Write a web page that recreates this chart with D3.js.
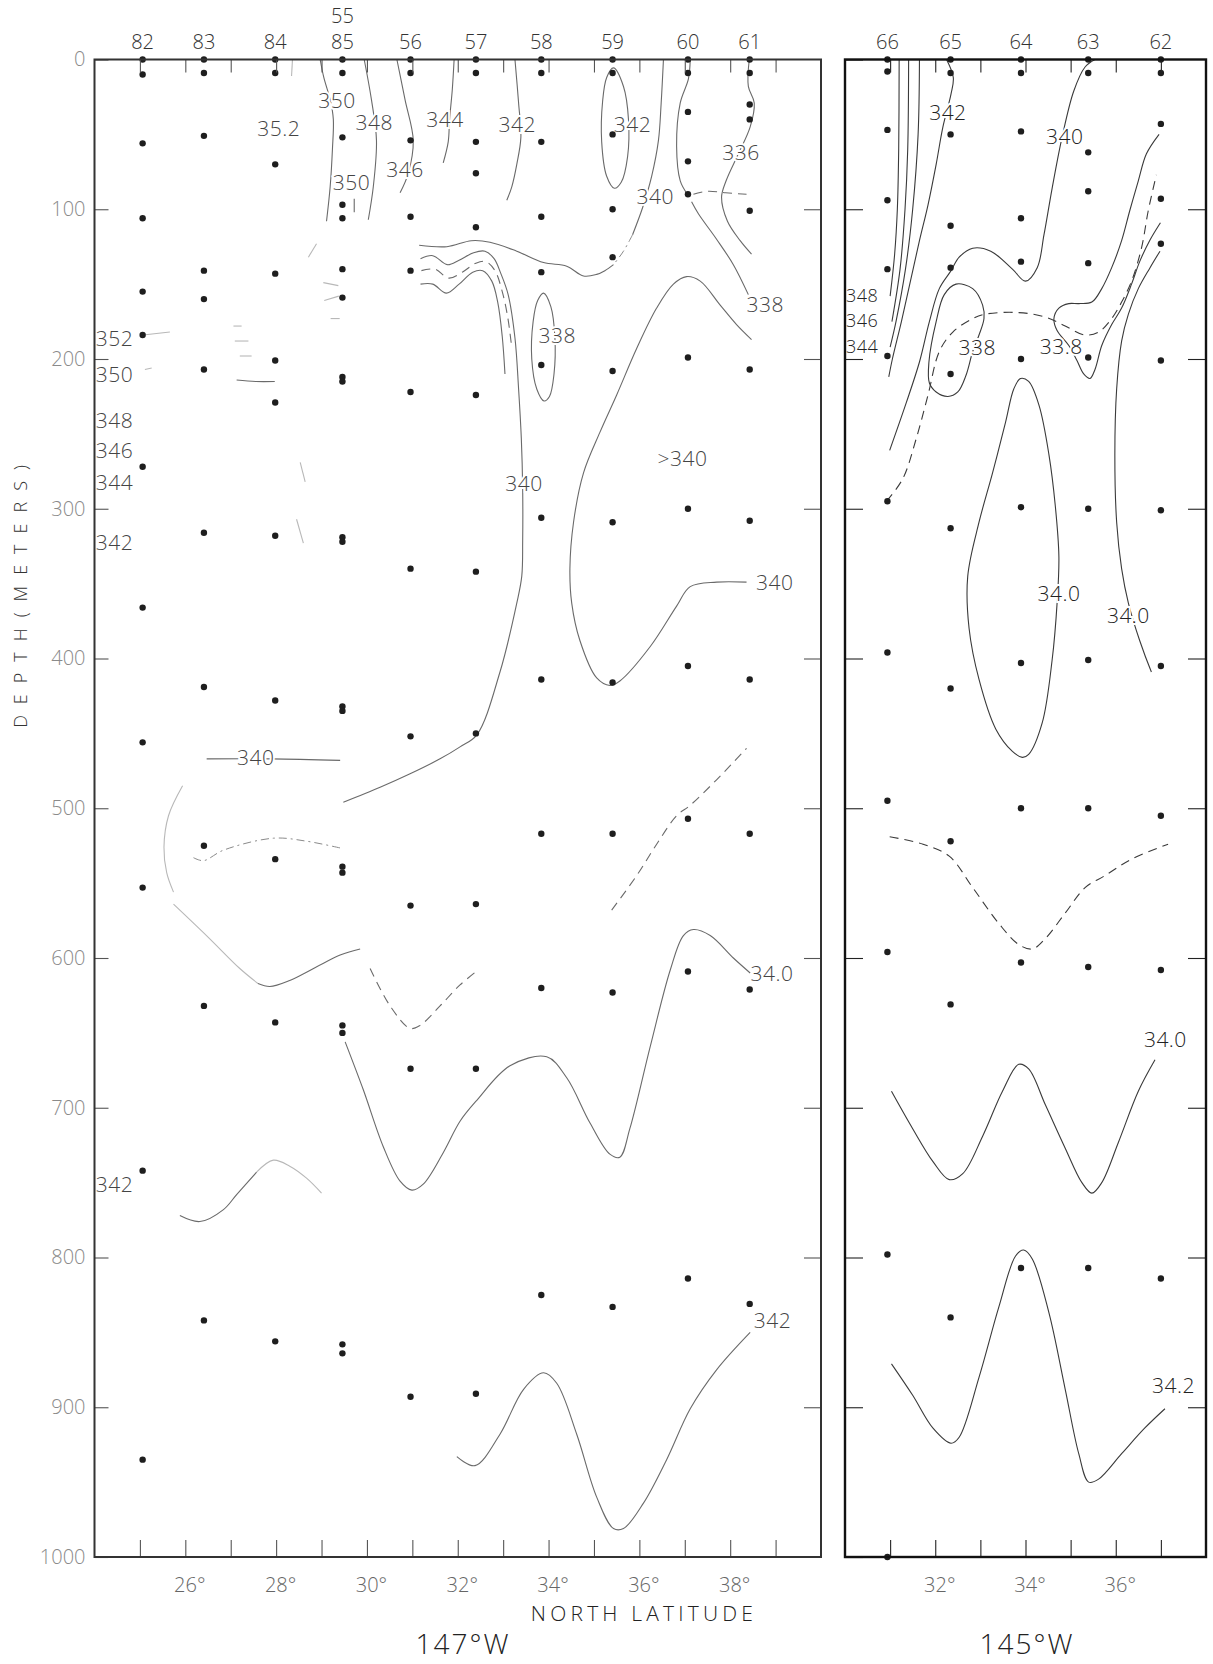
<!DOCTYPE html>
<html><head><meta charset="utf-8">
<script src="https://cdn.jsdelivr.net/npm/d3@7"></script>
<style>
body{margin:0;background:#fff}
text{font-family:"Open Sans","Liberation Sans",sans-serif;font-weight:300}
</style>
</head><body>
<svg id="c" width="1213" height="1664"></svg>
<script>
// ---------------- DATA ----------------
const depthTicks = [0,100,200,300,400,500,600,700,800,900,1000];
const leftLatTicks = [25,26,27,28,29,30,31,32,33,34,35,36,37,38,39];
const rightLatTicks = [31,32,33,34,35,36,37];
const leftLatLabels = [26,28,30,32,34,36,38];
const rightLatLabels = [32,34,36];

const leftStationIds = ["82","83","84","85","56","57","58","59","60","61"];
const leftStationLats = [25.06,26.41,27.98,29.46,30.96,32.40,33.84,35.41,37.07,38.43];
const leftStationDepths = [
  [0,10,56,106,155,184,272,366,456,553,742,935],
  [0,9,51,141,160,207,316,419,525,632,842],
  [0,9,70,143,201,229,318,428,534,643,856],
  [0,9,52,97,106,140,159,212,215,319,322,432,435,539,543,645,650,858,864],
  [0,9,54,105,141,222,340,452,565,674,893],
  [0,9,55,76,112,224,342,450,564,674,891],
  [0,9,55,105,142,204,306,414,517,620,825],
  [0,9,50,100,132,208,309,416,517,623,833],
  [0,9,35,68,90,199,300,405,507,609,814],
  [0,9,30,40,101,207,308,414,517,621,831]
];
const rightStationIds = ["66","65","64","63","62"];
const rightStationLats = [30.94,32.34,33.90,35.39,37.00];
const rightStationDepths = [
  [0,8,47,94,140,198,295,396,495,596,798,1000],
  [0,9,50,111,139,210,313,420,522,631,840],
  [0,9,48,106,135,200,299,403,500,603,807],
  [0,9,62,88,136,199,300,401,500,606,807],
  [0,9,43,93,123,201,301,405,505,608,814]
];

// isohalines: [latitude, depth] pairs
const leftContours = [
  {s:"faint", pts:[[28.36,0],[28.34,11]]},
  {s:"solid", pts:[[28.97,0],[29.05,12],[29.2,28],[29.26,40],[29.24,60],[29.19,85],[29.11,108]]},
  {s:"solid", pts:[[29.72,93],[29.72,102]]},
  {s:"solid", pts:[[29.94,0],[30.1,27],[30.21,54],[30.14,85],[30.03,107]]},
  {s:"solid", pts:[[30.66,0],[30.84,27],[31.02,54],[30.91,76],[30.73,89]]},
  {s:"solid", pts:[[31.92,0],[31.88,20],[31.82,40],[31.79,55],[31.68,69]]},
  {s:"solid", pts:[[33.26,0],[33.34,29],[33.39,52],[33.30,70],[33.19,85],[33.08,94]]},
  {s:"solid", closed:true, pts:[[35.43,5.6],[35.65,18],[35.76,40],[35.74,65],[35.6,82],[35.45,86],[35.28,78],[35.17,55],[35.19,28],[35.28,12]]},
  {s:"solid", pts:[[36.53,0],[36.48,29],[36.42,54],[36.27,78],[36.07,99],[35.85,117]]},
  {s:"dashdot", pts:[[35.85,117],[35.65,128],[35.43,137]]},
  {s:"solid", pts:[[35.43,137],[35.24,141],[35.06,143.5],[34.77,144.6],[34.4,138],[33.89,135.6],[33.3,128],[32.71,122],[32.3,121],[31.76,125],[31.15,124]]},
  {s:"solid", pts:[[31.18,133],[31.45,131],[31.77,137],[32.03,134],[32.35,129],[32.6,128],[32.8,133],[32.95,143],[33.11,157],[33.26,186],[33.34,220],[33.4,253],[33.43,287],[33.43,321],[33.41,345],[33.3,363],[32.93,409],[32.42,451],[32.05,459],[31.61,467],[30.95,477],[30.29,486],[29.48,496]]},
  {s:"dashed", pts:[[31.2,141],[31.5,140],[31.8,146],[32.1,142],[32.4,136],[32.62,135],[32.82,141],[32.98,155],[33.1,172],[33.18,190]]},
  {s:"solid", pts:[[31.18,150],[31.45,150],[31.75,156],[32.03,150],[32.33,142],[32.55,141],[32.75,148],[32.88,162],[32.98,185],[33.04,210]]},
  {s:"solid", closed:true, pts:[[33.89,156],[34.05,165],[34.14,186],[34.12,210],[34.02,225],[33.9,228],[33.74,220],[33.63,200],[33.66,175],[33.76,161]]},
  {s:"solid", pts:[[37.12,0],[37.08,13],[36.9,29],[36.82,58],[36.9,81],[37.06,90]]},
  {s:"dashed", pts:[[37.19,90],[37.5,88],[37.9,89],[38.36,90]]},
  {s:"solid", pts:[[37.15,95],[37.3,103],[37.7,120],[38.07,137],[38.4,157]]},
  {s:"solid", pts:[[38.42,0],[38.4,18],[38.53,29],[38.44,45],[38.18,63],[37.91,81],[37.81,92],[37.94,108],[38.22,121],[38.47,130]]},
  {s:"solid", pts:[[38.47,187],[38.14,177],[37.78,164],[37.34,148],[37.04,145],[36.75,150],[36.38,166],[35.94,193],[35.5,224],[35.13,249],[34.77,276],[34.55,309],[34.47,340],[34.51,363],[34.69,388],[35.06,413],[35.35,418],[35.57,415],[36.24,392],[36.82,365],[37.12,352],[37.7,349],[38.36,349]]},
  {s:"solid", pts:[[26.47,467],[27.9,467],[29.41,468]]},
  {s:"faint", pts:[[25.94,485],[25.63,505],[25.53,526],[25.59,543],[25.74,556]]},
  {s:"dashdot", pts:[[26.18,533],[26.4,535],[26.84,528],[27.94,520],[28.67,522],[29.48,527]]},
  {s:"faint", pts:[[25.74,564],[26.5,586],[27.2,607],[27.6,617]]},
  {s:"solid", pts:[[27.6,617],[27.86,619],[28.3,615],[29.41,598],[29.85,594]]},
  {s:"dashed", pts:[[30.07,607],[30.51,632],[30.95,647],[31.17,645],[31.61,632],[32.05,618],[32.45,608]]},
  {s:"solid", pts:[[29.52,656],[29.92,688],[30.36,726],[30.73,749],[30.99,755],[31.24,751],[31.68,730],[32.05,709],[32.42,695],[33.15,672],[33.96,666],[34.4,680],[34.91,710],[35.35,731],[35.57,733],[35.79,714],[36.24,659],[36.68,608],[36.97,585],[37.19,581],[37.56,585],[38.07,600],[38.44,610]]},
  {s:"dashed", pts:[[35.39,568],[35.94,545],[36.38,524],[36.82,505],[37.12,498],[37.7,481],[38.36,460]]},
  {s:"solid", pts:[[25.88,772],[26.32,776],[26.84,768],[27.13,758],[27.57,743]]},
  {s:"faint", pts:[[27.57,743],[27.94,735],[28.3,739],[28.67,747],[29.0,757]]},
  {s:"solid", pts:[[31.98,933],[32.38,939],[32.93,918],[33.45,888],[33.89,877],[34.18,884],[34.62,918],[35.06,960],[35.43,981],[35.65,981],[36.09,964],[36.6,935],[37.12,901],[37.7,875],[38.44,850]]},
  {s:"faint", pts:[[25.07,184],[25.66,182]]},
  {s:"faint", pts:[[25.11,207],[25.26,206]]},
  {s:"faint", pts:[[27.06,178],[27.24,178]]},
  {s:"faint", pts:[[27.09,188],[27.39,188]]},
  {s:"faint", pts:[[27.2,198],[27.46,198]]},
  {s:"solid", pts:[[27.13,214],[27.55,215],[27.97,215]]},
  {s:"faint", pts:[[29.04,149],[29.37,151]]},
  {s:"faint", pts:[[29.06,161],[29.38,158]]},
  {s:"faint", pts:[[29.2,173],[29.4,173]]},
  {s:"faint", pts:[[28.45,307],[28.6,323]]},
  {s:"faint", pts:[[28.53,269],[28.64,282]]},
  {s:"faint", pts:[[28.71,132],[28.89,123]]}
];

const rightContours = [
  {s:"solid", pts:[[31.2,0],[31.19,60],[31.16,100],[31.1,130],[31.0,158]]},
  {s:"solid", pts:[[31.41,0],[31.39,60],[31.33,100],[31.22,140],[31.04,175]]},
  {s:"solid", pts:[[31.65,0],[31.62,50],[31.5,100],[31.34,140],[31.13,175],[31.0,192]]},
  {s:"solid", pts:[[32.25,0],[32.4,12],[32.35,23],[32.17,45],[32.02,70],[31.84,97],[31.65,121],[31.45,148],[31.25,175],[31.05,200],[30.97,212]]},
  {s:"solid", pts:[[35.54,0],[35.32,5],[35.07,21],[34.81,52],[34.59,86],[34.41,117],[34.26,139],[34.0,148],[33.71,140],[33.23,128],[32.83,126],[32.53,132],[32.35,141],[32.09,153],[31.87,175],[31.65,202],[31.36,229],[30.99,261]]},
  {s:"solid", closed:true, pts:[[32.46,150],[32.83,153],[33.05,164],[33.08,173],[32.97,184],[32.83,195],[32.68,211],[32.5,222],[32.28,225],[32.02,222],[31.87,216],[31.86,202],[32.02,175],[32.2,157]]},
  {s:"dashed", pts:[[30.92,295],[31.28,280],[31.58,253],[31.84,224],[32.09,195],[32.39,182],[32.83,173],[33.12,170],[33.85,169],[34.44,172],[34.88,178],[35.32,184],[35.62,182],[35.91,173],[36.13,162],[36.35,148],[36.57,126],[36.72,101],[36.9,77]]},
  {s:"solid", pts:[[36.96,50],[36.68,63],[36.5,81],[36.31,101],[36.13,121],[35.91,139],[35.69,153],[35.47,162],[35.18,163],[34.96,163],[34.74,166],[34.63,173],[34.7,181],[34.96,191],[35.14,201],[35.29,210],[35.43,213],[35.54,207],[35.69,191],[35.91,177],[36.13,166],[36.35,150],[36.53,135],[36.75,121],[36.99,109]]},
  {s:"solid", pts:[[36.98,128],[36.76,139],[36.5,153],[36.28,170],[36.13,188],[36.02,220],[35.98,264],[36.02,309],[36.13,340],[36.28,363],[36.53,388],[36.79,409]]},
  {s:"solid", closed:true, pts:[[33.93,466],[33.71,462],[33.34,447],[32.97,414],[32.75,380],[32.72,345],[32.97,309],[33.27,276],[33.56,242],[33.74,220],[33.89,213],[34.07,215],[34.3,231],[34.52,264],[34.66,298],[34.74,332],[34.7,363],[34.59,401],[34.37,443],[34.07,464]]},
  {s:"dashed", pts:[[30.99,519],[31.73,524],[32.31,532],[32.83,553],[33.41,577],[33.85,591],[34.15,594],[34.44,587],[34.88,570],[35.32,553],[35.76,545],[36.35,534],[37.16,524]]},
  {s:"solid", pts:[[31.03,689],[31.5,714],[31.95,736],[32.31,748],[32.61,744],[33.05,719],[33.49,689],[33.85,671],[34.07,674],[34.44,698],[34.88,727],[35.25,750],[35.47,757],[35.69,750],[36.06,723],[36.5,689],[36.87,668]]},
  {s:"solid", pts:[[31.03,871],[31.5,892],[31.95,914],[32.35,924],[32.53,920],[32.97,880],[33.41,833],[33.78,799],[33.96,795],[34.15,801],[34.52,837],[34.88,888],[35.18,931],[35.4,950],[35.62,948],[36.13,931],[36.64,914],[37.09,901]]}
];

const leftLabels = [
  {t:"35.2",lat:28.06,d:46},{t:"350",lat:29.34,d:27},{t:"348",lat:30.16,d:42},
  {t:"344",lat:31.72,d:40},{t:"350",lat:29.66,d:82},{t:"346",lat:30.84,d:73},
  {t:"342",lat:33.31,d:43},{t:"342",lat:35.85,d:43},{t:"340",lat:36.35,d:91},
  {t:"336",lat:38.24,d:62},{t:"338",lat:34.19,d:184},{t:"338",lat:38.77,d:163},
  {t:">340",lat:36.95,d:266},{t:"340",lat:33.46,d:283},{t:"340",lat:38.98,d:349},
  {t:"340",lat:27.55,d:466},{t:"34.0",lat:38.92,d:610},{t:"342",lat:38.93,d:842},
  {t:"352",lat:24.03,d:186,a:"start"},{t:"350",lat:24.03,d:210,a:"start"},
  {t:"348",lat:24.03,d:241,a:"start"},{t:"346",lat:24.03,d:261,a:"start"},
  {t:"344",lat:24.03,d:282,a:"start"},{t:"342",lat:24.03,d:322,a:"start"},
  {t:"342",lat:24.03,d:751,a:"start"}
];
const rightLabels = [
  {t:"342",lat:32.28,d:35},{t:"340",lat:34.87,d:51},
  {t:"348",lat:30.02,d:157,a:"start",fs:18},{t:"346",lat:30.02,d:174,a:"start",fs:18},{t:"344",lat:30.02,d:191,a:"start",fs:18},
  {t:"338",lat:32.93,d:192},{t:"33.8",lat:34.79,d:191},
  {t:"34.0",lat:34.74,d:356},{t:"34.0",lat:36.28,d:371},
  {t:"34.0",lat:37.1,d:654},{t:"34.2",lat:37.28,d:885}
];

// ---------------- DRAW ----------------
const svg = d3.select("#c");
const y = d3.scaleLinear().domain([0,1000]).range([59.5,1557]);
const xL = d3.scaleLinear().domain([24,40]).range([94.5,821]);
const xR = d3.scaleLinear().domain([30,38]).range([845,1206]);

const styles = {
  solid:{stroke:"#6a6a6a",dash:null,w:1.1},
  dashed:{stroke:"#6a6a6a",dash:"9,6",w:1.1},
  dashdot:{stroke:"#8a8a8a",dash:"8,4,2,4",w:1},
  faint:{stroke:"#b8b8b8",dash:null,w:1.1}
};

function drawPanel(x, contours, labels, ids, lats, depths, latTicks, latLabels, dark){
  const g = svg.append("g");
  contours.forEach(c=>{
    const st = styles[c.s];
    const line = d3.line().x(p=>x(p[0])).y(p=>y(p[1]))
      .curve(c.closed ? d3.curveCatmullRomClosed.alpha(0.5) : (c.pts.length>2 ? d3.curveCatmullRom.alpha(0.5) : d3.curveLinear));
    g.append("path").attr("d",line(c.pts)).attr("fill","none")
      .attr("stroke", dark && c.s!=="faint" ? "#3a3a3a" : st.stroke)
      .attr("stroke-width", st.w).attr("stroke-dasharray", st.dash);
  });
  labels.forEach(l=>{
    g.append("text").attr("x",x(l.lat)).attr("y",y(l.d))
      .attr("text-anchor",l.a||"middle").attr("dominant-baseline","central")
      .attr("font-size",l.fs||21).attr("letter-spacing",0.5)
      .attr("fill", dark ? "#222" : "#444")
      .attr("stroke","#fff").attr("stroke-width",4).attr("paint-order","stroke")
      .text(l.t);
  });
  ids.forEach((id,i)=>{
    depths[i].forEach(dp=>{
      g.append("circle").attr("cx",x(lats[i])).attr("cy",y(dp)).attr("r",3.2).attr("fill","#1e1e1e");
    });
    g.append("text").attr("x",x(lats[i])).attr("y",41).attr("text-anchor","middle")
      .attr("dominant-baseline","central").attr("font-size",20).attr("fill","#333").text(id);
  });
  const [x0,x1] = x.range();
  const yl = g.append("g").attr("transform",`translate(${x0},0)`)
    .call(d3.axisLeft(y).tickValues(depthTicks).tickSize(dark?-18:-14));
  const yr = g.append("g").attr("transform",`translate(${x1},0)`)
    .call(d3.axisRight(y).tickValues(depthTicks.slice(1,-1)).tickSize(dark?-18:-17));
  const xt = g.append("g").attr("transform",`translate(0,${y(0)})`)
    .call(d3.axisTop(x).tickValues(latTicks).tickSize(-13));
  const xb = g.append("g").attr("transform",`translate(0,${y(1000)})`)
    .call(d3.axisBottom(x).tickValues(latTicks).tickSize(-17));
  [yl,yr,xt,xb].forEach(a=>{
    a.select(".domain").remove();
    a.selectAll("text").remove();
    a.selectAll("line").attr("stroke",dark?"#222":"#555").attr("stroke-width",1.1);
  });
  const xl = g.append("g").attr("transform",`translate(0,${y(1000)})`)
    .call(d3.axisBottom(x).tickValues(latLabels).tickSize(0).tickPadding(21).tickFormat(d=>d+"°"));
  xl.select(".domain").remove();
  xl.selectAll("text").attr("font-size",20).attr("fill","#666").attr("dx",4)
    .attr("font-family",'"Open Sans","Liberation Sans",sans-serif');
  g.append("rect").attr("x",x0).attr("y",y(0)).attr("width",x1-x0).attr("height",y(1000)-y(0))
    .attr("fill","none").attr("stroke",dark?"#111":"#333").attr("stroke-width",dark?2.4:2);
}

drawPanel(xL,leftContours,leftLabels,leftStationIds,leftStationLats,leftStationDepths,leftLatTicks,leftLatLabels,false);
drawPanel(xR,rightContours,rightLabels,rightStationIds,rightStationLats,rightStationDepths,rightLatTicks,rightLatLabels,true);

// extra station number above 85
svg.append("text").attr("x",xL(29.46)).attr("y",15).attr("text-anchor","middle")
  .attr("dominant-baseline","central").attr("font-size",20).attr("fill","#333").text("55");

// depth labels
const ya = svg.append("g").attr("transform",`translate(${xL(24)},0)`)
  .call(d3.axisLeft(y).tickValues(depthTicks).tickSize(0).tickPadding(9).tickFormat(d3.format("d")));
ya.select(".domain").remove();
ya.selectAll("text").attr("font-size",20).attr("fill","#8a8a8a")
  .attr("font-family",'"Open Sans","Liberation Sans",sans-serif').attr("font-weight",300);

// titles
svg.append("text").attr("transform","translate(20,591) rotate(-90)").attr("text-anchor","middle")
  .attr("dominant-baseline","central").attr("font-size",18).attr("letter-spacing",11).attr("fill","#333")
  .text("DEPTH(METERS)");
svg.append("text").attr("x",644).attr("y",1621).attr("text-anchor","middle")
  .attr("font-size",21).attr("letter-spacing",4.2).attr("fill","#222").text("NORTH LATITUDE");
svg.append("text").attr("x",463).attr("y",1654).attr("text-anchor","middle")
  .attr("font-size",28).attr("letter-spacing",2).attr("fill","#222").text("147°W");
svg.append("text").attr("x",1027).attr("y",1654).attr("text-anchor","middle")
  .attr("font-size",28).attr("letter-spacing",2).attr("fill","#222").text("145°W");
</script>
</body></html>
